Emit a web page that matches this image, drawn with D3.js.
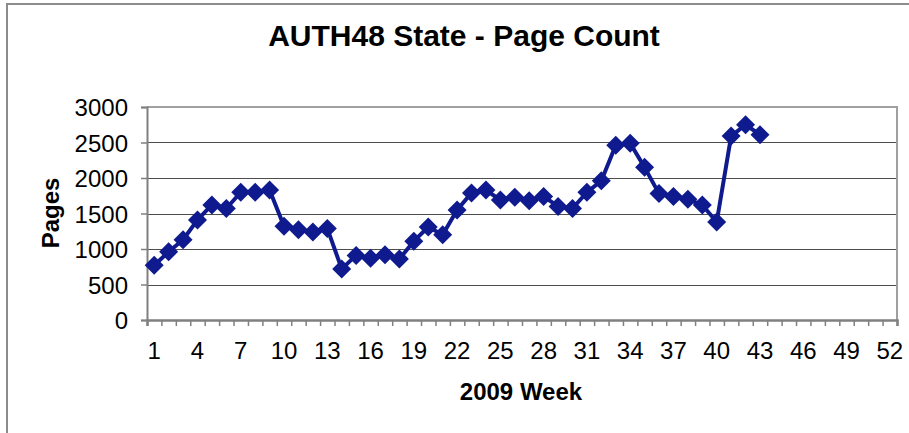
<!DOCTYPE html>
<meta charset="utf-8">
<style>
body {
  margin: 0;
  background-color: #ffffff;
}
svg { display: block; }
text { font-family: "Liberation Sans", Arial, sans-serif; fill: #000; }
.axis path, .axis line { fill: none; }
.grid line { stroke: #4d4d4d; stroke-width: 1px; shape-rendering: crispEdges; }
</style>
<svg width="909" height="433"></svg>
<script src="https://d3js.org/d3.v7.min.js"></script>
<script>
// 2009 weeks on the category axis
var weeks = d3.range(1, 53);
var xTickLabels = [1, 4, 7, 10, 13, 16, 19, 22, 25, 28, 31, 34, 37, 40, 43, 46, 49, 52];
var yTickValues = [0, 500, 1000, 1500, 2000, 2500, 3000];

// page counts, weeks 1..43
var pages = [770, 960, 1130, 1410, 1620, 1570, 1800, 1800, 1830, 1320,
             1270, 1240, 1290, 720, 910, 870, 920, 860, 1110, 1310,
             1200, 1550, 1790, 1830, 1690, 1730, 1680, 1740, 1600, 1570,
             1800, 1960, 2460, 2490, 2150, 1780, 1740, 1700, 1620, 1380,
             2590, 2750, 2610];

var data = pages.map(function(v, i) { return {week: weeks[i], pages: v}; });

var svg = d3.select("svg"),
    margin = {top: 107, right: 12, bottom: 113, left: 147},
    width = +svg.attr("width") - margin.left - margin.right,
    height = +svg.attr("height") - margin.top - margin.bottom;

var navy = "#0f1a8e";

// outer chart border (runs off the right/bottom edge)
svg.append("rect")
    .attr("x", 7).attr("y", 4)
    .attr("width", 920).attr("height", 460)
    .attr("fill", "none")
    .attr("stroke", "#8c8c8c")
    .attr("stroke-width", 2);

svg.append("text")
    .attr("x", 464).attr("y", 45.5)
    .attr("text-anchor", "middle")
    .style("font-size", "30px")
    .style("font-weight", "bold")
    .text("AUTH48 State - Page Count");

var x = d3.scaleBand().domain(weeks).range([0, width]);
var xEdge = d3.scaleLinear().domain([0, 52]).range([0, width]);
var y = d3.scaleLinear().domain([0, 3000]).range([height, 0]);

var g = svg.append("g")
    .attr("transform", "translate(" + margin.left + "," + margin.top + ")");

// gridlines
g.append("g")
    .attr("class", "grid")
    .selectAll("line")
    .data(yTickValues.filter(function(d) { return d > 0 && d < 3000; }))
  .enter().append("line")
    .attr("x1", 0).attr("x2", width)
    .attr("y1", function(d) { return Math.round(y(d)) + 0.5; })
    .attr("y2", function(d) { return Math.round(y(d)) + 0.5; });

// top and right plot border
g.append("path")
    .attr("d", "M0," + y(3000) + "H" + width + "V" + height)
    .attr("fill", "none")
    .attr("stroke", "#a0a0a0")
    .attr("stroke-width", 2);

// y axis
var yAxis = g.append("g")
    .attr("class", "axis")
    .call(d3.axisLeft(y).tickValues(yTickValues).tickFormat(d3.format("d"))
      .tickSize(6).tickPadding(13));
yAxis.select(".domain").attr("stroke", "#808080").attr("stroke-width", 2);
yAxis.selectAll(".tick line").attr("stroke", "#808080").attr("stroke-width", 1.5);
yAxis.selectAll(".tick text")
    .style("font-size", "24px")
    .attr("dy", "0.36em");

// x tick marks at category edges
var xMarks = g.append("g")
    .attr("class", "axis")
    .attr("transform", "translate(0," + height + ")")
    .call(d3.axisBottom(xEdge).tickValues(d3.range(0, 53)).tickSize(6).tickFormat(""));
xMarks.select(".domain").attr("stroke", "#808080").attr("stroke-width", 2.5);
xMarks.selectAll(".tick line").attr("stroke", "#808080").attr("stroke-width", 1.5);

// x labels at category centres
var xLabels = g.append("g")
    .attr("class", "axis")
    .attr("transform", "translate(0," + height + ")")
    .call(d3.axisBottom(x).tickValues(xTickLabels).tickSize(0).tickPadding(22));
xLabels.select(".domain").remove();
xLabels.selectAll(".tick text").style("font-size", "24px");

// axis titles
svg.append("text")
    .attr("transform", "translate(59,213) rotate(-90)")
    .attr("text-anchor", "middle")
    .style("font-size", "24px")
    .style("font-weight", "bold")
    .text("Pages");

svg.append("text")
    .attr("x", 521).attr("y", 400)
    .attr("text-anchor", "middle")
    .style("font-size", "24px")
    .style("font-weight", "bold")
    .text("2009 Week");

// series
var line = d3.line()
    .x(function(d) { return x(d.week) + x.bandwidth() / 2; })
    .y(function(d) { return y(d.pages); });

g.append("path")
    .datum(data)
    .attr("d", line)
    .attr("fill", "none")
    .attr("stroke", navy)
    .attr("stroke-width", 4)
    .attr("stroke-linejoin", "round");

g.selectAll(".marker")
    .data(data)
  .enter().append("path")
    .attr("class", "marker")
    .attr("d", "M0,-9.5L9.5,0L0,9.5L-9.5,0Z")
    .attr("fill", navy)
    .attr("transform", function(d) {
      return "translate(" + (x(d.week) + x.bandwidth() / 2) + "," + y(d.pages) + ")";
    });
</script>
